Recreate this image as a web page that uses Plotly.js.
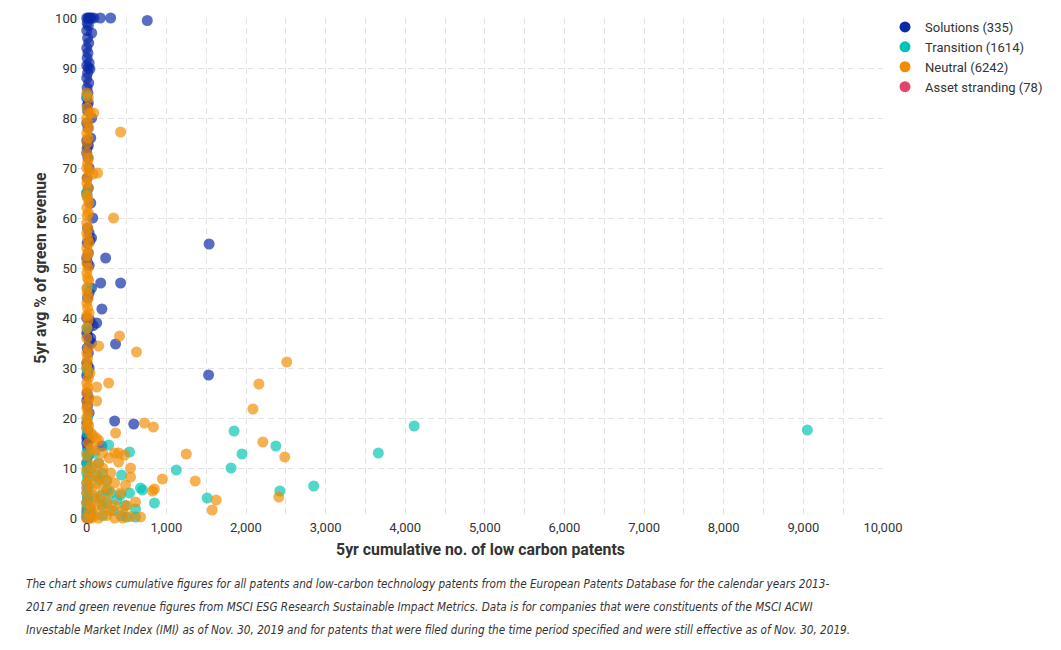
<!DOCTYPE html>
<html>
<head>
<meta charset="utf-8">
<script src="https://cdn.plot.ly/plotly-3.0.1.min.js"></script>
<style>
  html, body { margin: 0; padding: 0; background: #fff; }
  #chart { width: 1061px; height: 650px; }
</style>
</head>
<body>
<div id="chart"></div>
<script>
// ---------- DATA ----------
const seriesNames = ["Solutions (335)", "Transition (1614)", "Neutral (6242)", "Asset stranding (78)"];
const seriesColors = ["#0a2aa6", "#00c4b2", "#f28c00", "#e4436a"];

// [low carbon patents, green revenue %]
const solutionsPts = [
  [0,100],[15,100],[30,100],[45,100],[60,100],[90,100],[170,100],[300,100],[760,99.5],
  [5,99],[20,98.5],[0,97.5],[62,97],[10,96],[25,95],[0,94],[15,93],[5,92],[30,91],[0,90.5],
  [20,90],[40,89.8],[10,89],[0,88],[25,87],[5,86],[15,85],[0,84],[20,83],[5,82.5],[10,81.5],
  [62,80],[0,79],[15,78],[50,76],[0,75.5],[10,75],[20,74.5],[5,74],[0,73],[15,72],[30,70],
  [5,68],[20,66],[0,65],[50,63],[75,60],[10,58],[30,57],[60,56],[40,55.5],[5,55],[20,53],
  [0,52],[10,51],[30,50.5],[237,52],[175,47],[425,47],[60,46],[30,45],[10,44],[190,41.8],
  [0,40],[40,39.5],[125,39],[80,38.5],[20,38],[0,37],[10,36.5],[50,36],[30,35.5],[60,35],
  [362,34.8],[5,34],[20,33],[0,31],[10,30.5],[30,30],[15,29],[0,28.5],[1537,54.8],[1530,28.6],
  [5,25],[20,24],[0,23.5],[10,22.5],[30,21],[350,19.4],[590,18.8],[0,19],[15,17.5],[5,16.5],
  [0,16],[25,15.5],[190,14.4],[10,14],[0,15],[20,12.5],[0,11]
];

const transitionPts = [
  [0,84.5],[5,64.5],[0,65],[10,46],[0,38],[5,29.5],[0,30],[10,20],[0,18],[5,17],[0,13],
  [15,12.5],[0,11],[5,10],[0,9],[10,8],[0,7],[20,6],[0,5],[10,4],[0,3],[5,2],[15,1],[0,0.5],[30,0],
  [275,14.6],[537,13.2],[100,13],[150,11],[60,10],[200,9],[120,8.5],[437,8.6],[250,7.5],
  [150,7.6],[250,5.6],[675,6],[700,5.6],[537,5],[425,4.6],[300,5],[180,4.5],[100,4],[375,3.6],
  [250,3],[480,2.5],[612,1.8],[190,2.6],[330,1.5],[430,0.5],[500,0.2],[612,0.2],[200,0.5],
  [62,1.2],[850,3],[1125,9.6],[1512,4],[1812,10],[1850,17.4],[1950,12.8],[2375,14.4],
  [2425,5.4],[2850,6.4],[3662,13],[4112,18.4],[9050,17.6]
];

const neutralPts = [
  [0,85],[20,84],[5,82],[40,81],[87,81],[0,80],[10,79],[25,78],[425,77.2],[0,77],[15,76],
  [5,75],[0,73],[20,72],[10,71],[0,70],[30,69.5],[137,69],[80,68.8],[5,68],[0,67],[15,66],
  [0,64.5],[10,64],[25,63],[0,62],[20,61],[337,60],[5,60.5],[0,59],[15,58],[0,57],[10,56],
  [30,55],[0,54],[20,53],[5,52.5],[0,51],[15,50],[0,49],[10,48],[25,47.5],[0,46],[5,45],
  [20,44],[0,43],[10,42],[30,41],[0,40.5],[15,39.5],[5,38],[0,36],[412,36.4],[150,34.4],
  [625,33.2],[20,34],[0,33],[10,32],[5,31],[0,30],[40,29],[20,28],[0,27],[275,27],[125,26.2],
  [10,26],[0,25],[30,24],[125,23.4],[5,23],[0,22],[15,21],[0,20],[725,19],[837,18.2],[362,17],
  [10,19],[25,18.5],[0,18],[50,17],[80,16.5],[120,16],[150,15.5],[20,15],[60,14],[100,13.5],
  [200,13],[0,12.5],[350,13],[475,12.6],[400,13],[400,11.2],[280,12],[150,11],[60,10.5],
  [550,10],[200,10],[0,9.5],[100,9],[300,9],[550,8.2],[30,8],[180,8],[250,7.5],[950,7.8],
  [1362,7.4],[1250,12.8],[2087,21.8],[2162,26.8],[2512,31.2],[2212,15.2],[2487,12.2],
  [1625,3.6],[1575,1.6],[2412,4.2],[850,5.8],[825,5.4],[675,0.2],[0,7],[120,7],[350,7],
  [60,6],[200,6],[487,6.6],[280,5.5],[420,5],[0,5],[100,4.5],[160,4],[250,3.5],[612,3.2],
  [0,3],[50,2.5],[120,2.5],[350,2.5],[200,2],[450,1.5],[30,1],[100,0.5],[250,0.5],[0,0],
  [60,0],[150,0],[350,0],[450,0],[550,0.3],[500,2.5],[300,1.5]
];

const assetStrandingPts = [
  [0,0],[10,0.5],[0,1],[20,0],[5,2],[0,3],[30,1],[15,0],[0,0.2],[50,0.5],[0,1.5],[10,4],[40,2],[0,6]
];

const xTickVals = [0,1000,2000,3000,4000,5000,6000,7000,8000,9000,10000];
const yTickVals = [0,10,20,30,40,50,60,70,80,90,100];

const captionLines = [
  "The chart shows cumulative figures for all patents and low-carbon technology patents from the European Patents Database for the calendar years 2013-",
  "2017 and green revenue figures from MSCI ESG Research Sustainable Impact Metrics. Data is for companies that were constituents of the MSCI ACWI",
  "Investable Market Index (IMI) as of Nov. 30, 2019 and for patents that were filed during the time period specified and were still effective as of Nov. 30, 2019."
];

// ---------- TRACES ----------
const allPts = [solutionsPts, transitionPts, neutralPts, assetStrandingPts];
const drawOrder = [3, 0, 1, 2]; // asset stranding underneath, neutral on top
const traces = [];
drawOrder.forEach(i => {
  traces.push({
    type: "scatter", mode: "markers",
    x: allPts[i].map(p => p[0]),
    y: allPts[i].map(p => p[1]),
    name: seriesNames[i],
    showlegend: false,
    cliponaxis: false,
    hoverinfo: "x+y+name",
    marker: { color: seriesColors[i], size: 11, opacity: 0.68, line: { width: 0 } }
  });
});
// legend entries (full colour swatches)
seriesNames.forEach((n, i) => {
  traces.push({
    type: "scatter", mode: "markers", x: [null], y: [null], name: n,
    showlegend: true, legendrank: i + 1,
    marker: { color: seriesColors[i], size: 11 }
  });
});

const gridColor = "#e3e3e3";
const font = "Roboto, 'Open Sans', sans-serif";

const annotations = captionLines.map((t, k) => ({
  xref: "paper", yref: "paper",
  x: (24 - 78) / 805, y: (518 - (583.5 + k * 23.3)) / 500,
  xanchor: "left", yanchor: "middle",
  text: "<i>" + t + "</i>",
  showarrow: false,
  font: { family: "'Liberation Sans Narrow', 'DejaVu Sans Condensed', sans-serif", size: 11.65, color: "#333" }
}));

const layout = {
  width: 1061, height: 650,
  margin: { l: 78, r: 178, t: 18, b: 132 },
  paper_bgcolor: "#fff", plot_bgcolor: "#fff",
  font: { family: font, size: 13, color: "#333" },
  showlegend: true,
  legend: {
    x: (885 - 78) / 805, xanchor: "left", y: 1.012, yanchor: "top",
    font: { family: font, size: 13, color: "#333" },
    itemclick: false, tracegroupgap: 0, traceorder: "normal"
  },
  xaxis: {
    range: [-110, 10000],
    tickvals: xTickVals,
    tickformat: ",d",
    showgrid: true, gridcolor: gridColor, griddash: "6px,4px", gridwidth: 1,
    minor: { dtick: 500, tick0: 0, showgrid: true, gridcolor: gridColor, griddash: "6px,4px", gridwidth: 1 },
    zeroline: false, showline: false, ticks: "",
    tickfont: { family: font, size: 13, color: "#333" },
    title: { text: "<b>5yr cumulative no. of low carbon patents</b>", standoff: 9,
             font: { family: font, size: 15.8, color: "#333" } }
  },
  yaxis: {
    range: [0, 100],
    tickvals: yTickVals,
    showgrid: true, gridcolor: gridColor, griddash: "6px,4px", gridwidth: 1,
    zeroline: false, showline: false, ticks: "",
    tickfont: { family: font, size: 13, color: "#333" },
    title: { text: "<b>5yr avg % of green revenue</b>", standoff: 4,
             font: { family: font, size: 15.8, color: "#333" } }
  },
  annotations: annotations
};

Plotly.newPlot("chart", traces, layout, { displayModeBar: false, staticPlot: false });
</script>
</body>
</html>
